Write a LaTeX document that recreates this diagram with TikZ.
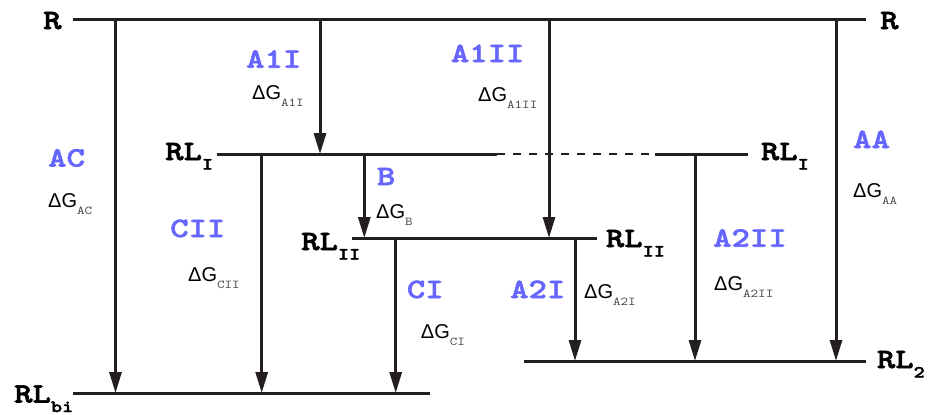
\documentclass[tikz,border=0pt]{standalone}
\usepackage{fontspec}
\setmainfont{Liberation Sans}
\newfontfamily\courb{lmmonolt10-bold.otf}[FakeStretch=1.25,FakeBold=2.2]
\newfontfamily\courr{lmmono10-regular.otf}[FakeStretch=1.2]
\usetikzlibrary{arrows.meta}
\definecolor{ink}{HTML}{231F20}
\definecolor{lblue}{HTML}{6666FF}
\definecolor{subgray}{HTML}{4A4A4A}
\newcommand{\lvlname}[2]{{\courb\fontsize{28}{28}\selectfont #1\raisebox{-9.5pt}{\fontsize{17}{17}\selectfont #2}}}
\newcommand{\dgname}[1]{{\fontsize{20}{20}\selectfont ΔG}\raisebox{-7pt}{\courr\color{subgray}\fontsize{12}{12}\selectfont #1}}
\begin{document}
\begin{tikzpicture}[x=1pt,y=-1pt,
  txt/.style={inner sep=0pt, anchor=base west},
  lvltxt/.style={txt, text=black},
  rxn/.style={txt, text=lblue, font=\courb\fontsize{28}{28}\selectfont},
  dgtxt/.style={txt, text=black},
  level/.style={draw=ink, line width=3pt},
  dashlevel/.style={draw=ink, line width=2pt, dash pattern=on 7.5pt off 8.5pt},
  flow/.style={draw=ink, line width=3pt, -{Triangle[length=21pt,width=12pt]}}]
\useasboundingbox (0,0) rectangle (930,415);

% level lines
\coordinate (R-l) at (73,19);   \coordinate (R-r) at (866,19);
\coordinate (RLI-l) at (217,154); \coordinate (RLI-d1) at (497,154);
\coordinate (RLI-d2) at (655,154); \coordinate (RLI-r) at (748,154);
\coordinate (RLII-l) at (352,238); \coordinate (RLII-r) at (597,238);
\coordinate (RLbi-l) at (73,393); \coordinate (RLbi-r) at (430,393);
\coordinate (RL2-l) at (524,361); \coordinate (RL2-r) at (866,361);

\draw[level] (R-l) -- (R-r);
\draw[level] (RLI-l) -- (RLI-d1);
\draw[dashlevel] (RLI-d1) -- (RLI-d2);
\draw[level] (RLI-d2) -- (RLI-r);
\draw[level] (RLII-l) -- (RLII-r);
\draw[level] (RLbi-l) -- (RLbi-r);
\draw[level] (RL2-l) -- (RL2-r);

% arrow end points
\coordinate (ac-s) at (115.5,19);  \coordinate (ac-e) at (115.5,393);
\coordinate (a1i-s) at (320,19);   \coordinate (a1i-e) at (320,154);
\coordinate (a1ii-s) at (549,19);  \coordinate (a1ii-e) at (549,238);
\coordinate (aa-s) at (836,19);    \coordinate (aa-e) at (836,361);
\coordinate (cii-s) at (261.7,154); \coordinate (cii-e) at (261.7,393);
\coordinate (b-s) at (364.3,154);  \coordinate (b-e) at (364.3,238);
\coordinate (a2ii-s) at (695,154); \coordinate (a2ii-e) at (695,361);
\coordinate (ci-s) at (395.7,238); \coordinate (ci-e) at (395.7,393);
\coordinate (a2i-s) at (575,238);  \coordinate (a2i-e) at (575,361);

\draw[flow] (ac-s) -- (ac-e);
\draw[flow] (a1i-s) -- (a1i-e);
\draw[flow] (a1ii-s) -- (a1ii-e);
\draw[flow] (aa-s) -- (aa-e);
\draw[flow] (cii-s) -- (cii-e);
\draw[flow] (b-s) -- (b-e);
\draw[flow] (a2ii-s) -- (a2ii-e);
\draw[flow] (ci-s) -- (ci-e);
\draw[flow] (a2i-s) -- (a2i-e);

% level labels
\node[lvltxt] (lR1) at (43,29) {\lvlname{R}{}};
\node[lvltxt] (lR2) at (880,29) {\lvlname{R}{}};
\node[lvltxt] (lRLI1) at (165,160) {\lvlname{RL}{I}};
\node[lvltxt] (lRLI2) at (760.7,160) {\lvlname{RL}{I}};
\node[lvltxt] (lRLII1) at (301,250) {\lvlname{RL}{II}};
\node[lvltxt] (lRLII2) at (605.7,247) {\lvlname{RL}{II}};
\node[lvltxt] (lRLbi) at (14,402.5) {\lvlname{RL}{bi}};
\node[lvltxt] (lRL2) at (876.7,368) {\lvlname{RL}{2}};

% reaction labels
\node[rxn] (nA1I) at (246,67.7) {A1I};
\node[rxn] (nA1II) at (450.7,62) {A1II};
\node[rxn] (nAC) at (48,166.5) {AC};
\node[rxn] (nAA) at (853,148) {AA};
\node[rxn] (nB) at (376.7,185) {B};
\node[rxn] (nCII) at (170,237) {CII};
\node[rxn] (nCI) at (406.7,298) {CI};
\node[rxn] (nA2I) at (510,298) {A2I};
\node[rxn] (nA2II) at (713,246.7) {A2II};

% free energy labels
\node[dgtxt] (gA1I) at (252,99) {\dgname{A1I}};
\node[dgtxt] (gA1II) at (478,101) {\dgname{A1II}};
\node[dgtxt] (gAC) at (48,207) {\dgname{AC}};
\node[dgtxt] (gAA) at (853,197) {\dgname{AA}};
\node[dgtxt] (gB) at (376,218) {\dgname{B}};
\node[dgtxt] (gCII) at (188,281.7) {\dgname{CII}};
\node[dgtxt] (gCI) at (420.7,338) {\dgname{CI}};
\node[dgtxt] (gA2I) at (584,298) {\dgname{A2I}};
\node[dgtxt] (gA2II) at (714,290) {\dgname{A2II}};
\end{tikzpicture}
\end{document}
